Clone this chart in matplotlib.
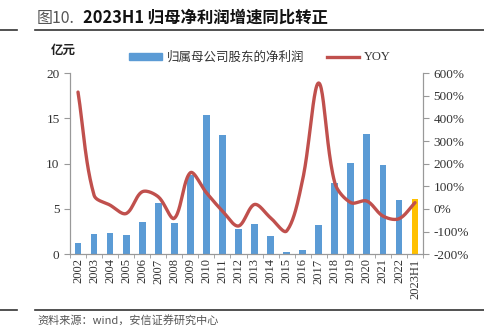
import numpy as np
import matplotlib
matplotlib.use("Agg")
import matplotlib.pyplot as plt
from matplotlib.lines import Line2D
from matplotlib.patches import Patch

plt.rcParams['font.family'] = ['Liberation Serif', 'Noto Sans CJK SC', 'DejaVu Sans']

years = ['2002', '2003', '2004', '2005', '2006', '2007', '2008', '2009', '2010', '2011',
         '2012', '2013', '2014', '2015', '2016', '2017', '2018', '2019', '2020', '2021',
         '2022', '2023H1']
profit = [1.2, 2.2, 2.4, 2.1, 3.6, 5.7, 3.4, 8.7, 15.4, 13.2,
          2.8, 3.3, 2.0, 0.2, 0.5, 3.2, 7.9, 10.1, 13.3, 9.9,
          6.0, 6.1]
yoy = [516, 61, 17, -20, 76, 54, -41, 160, 72, -9,
       -75, 20, -39, -97, 130, 556, 116, 28, 35, -31,
       -43, 28]


def excel_smooth(x, y, sx=16.05, sy=0.2275, n=24):
    # Bezier smoothing in screen space with tangents scaled by segment lengths
    P = np.column_stack([np.asarray(x, float) * sx, np.asarray(y, float) * sy])
    m = len(P)
    f = 1.0 / 6.0
    cout = np.zeros_like(P)
    cin = np.zeros_like(P)
    for i in range(m):
        prev = P[i - 1] if i > 0 else P[i]
        nxt = P[i + 1] if i < m - 1 else P[i]
        T = nxt - prev
        d0 = np.hypot(*(P[i] - prev))
        d1 = np.hypot(*(nxt - P[i]))
        tot = d0 + d1 if d0 + d1 > 0 else 1.0
        cout[i] = P[i] + T * f * 2 * d1 / tot
        cin[i] = P[i] - T * f * 2 * d0 / tot
    t = np.linspace(0, 1, n, endpoint=False)[:, None]
    pts = []
    for i in range(m - 1):
        p1, c1, c2, p2 = P[i], cout[i], cin[i + 1], P[i + 1]
        b = (1 - t) ** 3 * p1 + 3 * (1 - t) ** 2 * t * c1 + 3 * (1 - t) * t ** 2 * c2 + t ** 3 * p2
        pts.append(b)
    pts.append(P[-1:])
    pts = np.vstack(pts)
    return pts[:, 0] / sx, pts[:, 1] / sy


fig = plt.figure(figsize=(4.84, 3.32), dpi=100)
ax = fig.add_axes([0.1446, 0.234, 0.7294, 0.546])
ax2 = ax.twinx()

x = np.arange(len(years))
colors = ['#5B9BD5'] * (len(years) - 1) + ['#FFC000']
ax.bar(x, profit, width=0.42, color=colors, zorder=2)
ax.set_xlim(-0.5, len(years) - 0.5)
ax.set_ylim(0, 20)
ax.set_yticks([0, 5, 10, 15, 20])

lx, ly = excel_smooth(x, yoy)
ax2.plot(lx, ly, color='#C0504D', lw=2.4, solid_capstyle='round', zorder=3)
ax2.set_ylim(-200, 600)
ax2.set_yticks(np.arange(-200, 601, 100))

serif = ['Liberation Serif']
ax.set_xticks(x)
ax.set_xticklabels(years, rotation=90, fontsize=9, color='#333333', family=serif)
ax.set_yticklabels([str(v) for v in [0, 5, 10, 15, 20]], fontsize=9.5, color='#333333', family=serif)
ax2.set_yticklabels([f'{v}%' for v in range(-200, 601, 100)], fontsize=9.5, color='#333333',
                    family=serif)
ax.set_xticks(np.arange(-0.5, len(years), 1), minor=True)
ax.tick_params(axis='x', which='major', length=0, pad=3)
ax.tick_params(axis='x', which='minor', length=3, color='#999999', direction='out')
ax.tick_params(axis='y', length=4, color='#999999')
ax2.tick_params(axis='y', length=4, color='#999999')

for a in (ax, ax2):
    a.spines['top'].set_visible(False)
    for s in ('left', 'right', 'bottom'):
        a.spines[s].set_color('#999999')
        a.spines[s].set_linewidth(0.8)
ax.patch.set_visible(False)
ax2.patch.set_visible(False)
ax.set_zorder(1)
ax2.set_zorder(2)

cjk = ['Noto Sans CJK SC', 'DejaVu Sans']
fig.text(37 / 484, 1 - 18 / 332, '图10.', fontsize=11.5, color='#555555', family=cjk, va='center')
fig.text(83 / 484, 1 - 18 / 332, '2023H1 归母净利润增速同比转正', fontsize=11.8, fontweight='bold',
         color='#111111', family=cjk, va='center')
fig.add_artist(Line2D([0, 17 / 484], [1 - 30 / 332] * 2, color='#333333', lw=1.2))
fig.add_artist(Line2D([35 / 484, 1], [1 - 30 / 332] * 2, color='#333333', lw=1.2))
fig.add_artist(Line2D([0, 17 / 484], [1 - 310 / 332] * 2, color='#333333', lw=1.2))
fig.add_artist(Line2D([35 / 484, 1], [1 - 310 / 332] * 2, color='#333333', lw=1.2))
fig.text(37 / 484, 1 - 320 / 332, '资料来源：wind，安信证券研究中心', fontsize=8, color='#555555',
         family=cjk, style='italic', va='center')
fig.text(51 / 484, 1 - 50 / 332, '亿元', fontsize=9, fontweight='bold', color='#222222',
         family=cjk, va='center')

handles = [Patch(color='#5B9BD5'), Line2D([0], [0], color='#C0504D', lw=2.4)]
leg = fig.legend(handles, ['归属母公司股东的净利润', 'YOY'], loc='center',
                 bbox_to_anchor=(260 / 484, 1 - 57 / 332), ncol=2, frameon=False,
                 handlelength=2.6, handleheight=0.5, columnspacing=1.8,
                 handletextpad=0.4, prop={'family': cjk, 'size': 9})
for t in leg.get_texts():
    t.set_color('#333333')
leg.get_texts()[1].set_fontfamily(serif)

fig.savefig('out.png', dpi=100)
